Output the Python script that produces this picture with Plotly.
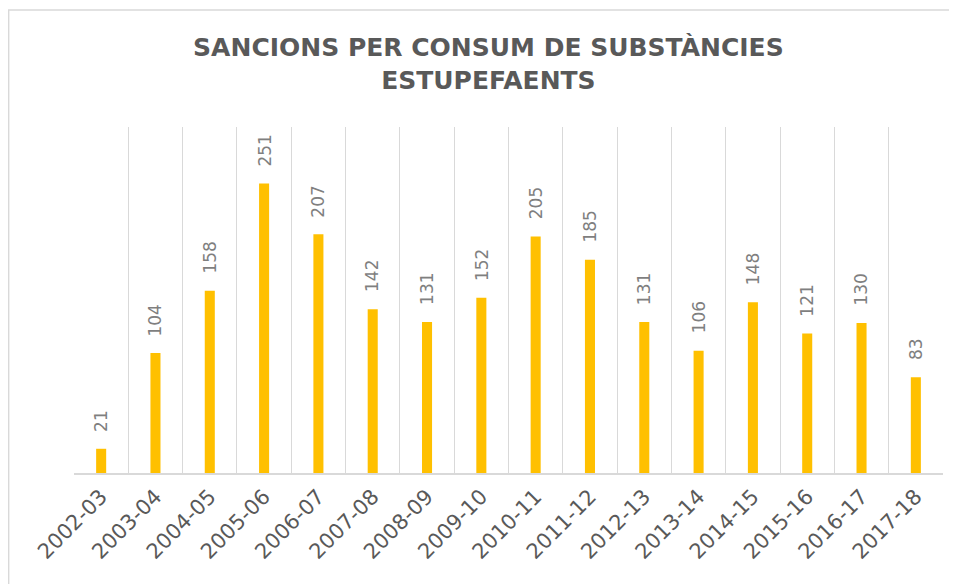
import plotly.graph_objects as go

seasons = ["2002-03", "2003-04", "2004-05", "2005-06", "2006-07", "2007-08", "2008-09", "2009-10",
           "2010-11", "2011-12", "2012-13", "2013-14", "2014-15", "2015-16", "2016-17", "2017-18"]
sanctions = [21, 104, 158, 251, 207, 142, 131, 152, 205, 185, 131, 106, 148, 121, 130, 83]

title_text = "SANCIONS PER CONSUM DE SUBSTÀNCIES<br>ESTUPEFAENTS"

fig = go.Figure()
fig.add_trace(go.Bar(
    x=seasons, y=sanctions,
    marker=dict(color="#FFC000", line=dict(width=0)),
    hoverinfo="x+y",
))

annotations = []
for s, v in zip(seasons, sanctions):
    annotations.append(dict(
        x=s, y=v, xref="x", yref="y", text=str(v), showarrow=False,
        textangle=-90, yanchor="bottom", xanchor="center", yshift=15,
        font=dict(family="DejaVu Sans", size=17, color="#7f7f7f"),
    ))

fig.update_layout(
    width=957, height=584,
    margin=dict(l=66, r=22, t=119, b=119, autoexpand=False),
    paper_bgcolor="white", plot_bgcolor="white",
    showlegend=False,
    bargap=0.815,
    title=dict(
        text=title_text, x=0.502, xanchor="center", y=0.917, yanchor="middle",
        font=dict(family="DejaVu Sans", size=25, color="#595959", weight="bold"),
    ),
    xaxis=dict(
        type="category", tickson="boundaries", showgrid=True, gridcolor="#d9d9d9", gridwidth=1,
        showline=True, linecolor="#d9d9d9", linewidth=2, ticks="", tickangle=-45,
        ticklabelstandoff=1, automargin=False,
        tickfont=dict(family="DejaVu Sans", size=21, color="#595959"),
        fixedrange=True,
    ),
    yaxis=dict(range=[0, 300], visible=False, showgrid=False, fixedrange=True, automargin=False),
    annotations=annotations,
    shapes=[dict(
        type="rect", xref="paper", yref="paper",
        x0=-0.0752, x1=1.03, y0=-0.4, y1=1.338,
        line=dict(color="#d9d9d9", width=1.5), fillcolor="rgba(0,0,0,0)", layer="below",
    )],
)

fig.write_html("out.html")
